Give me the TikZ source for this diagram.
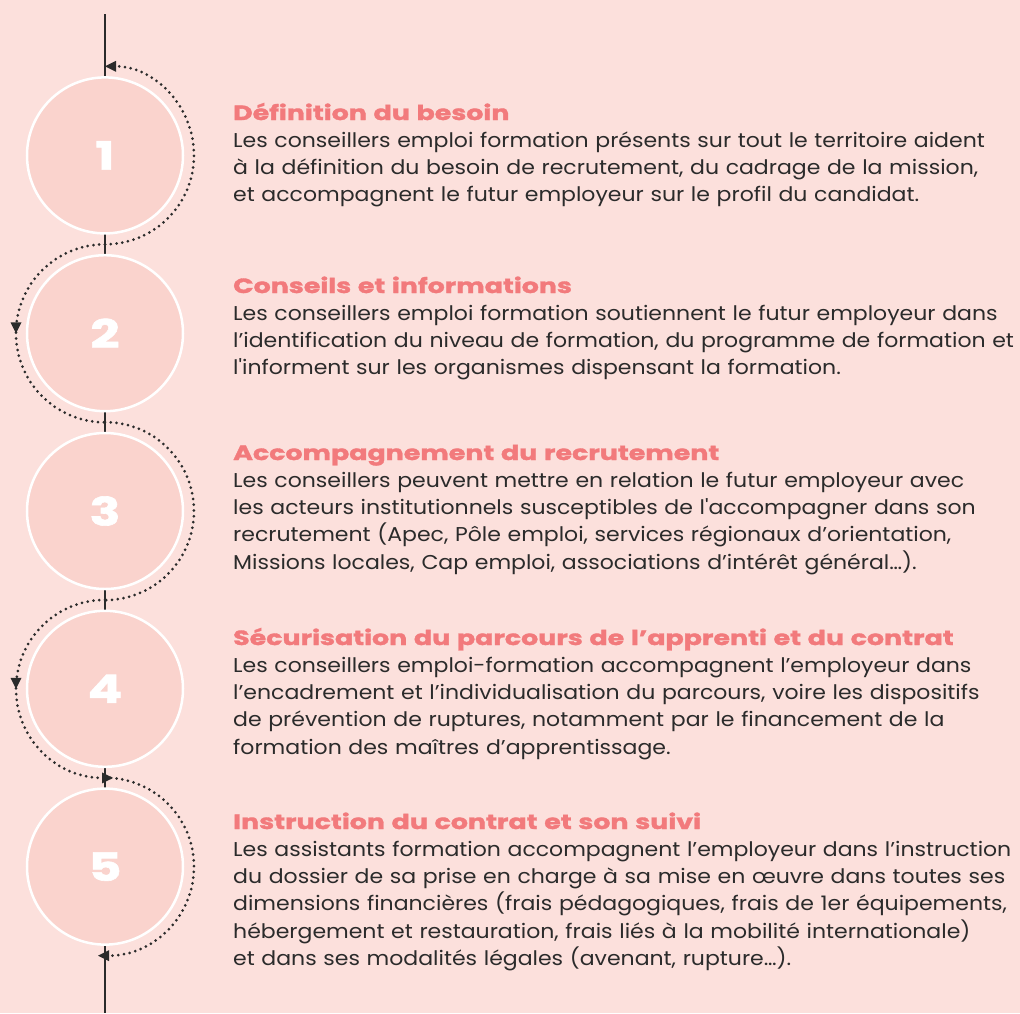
\documentclass[tikz,border=0pt]{standalone}
\usepackage{fontspec}
\usepackage{graphicx}
\setmainfont{Poppins}[FakeStretch=1.1, Ligatures=TeXOff]
\newfontfamily\headfont{Poppins}[FakeStretch=1.31, BoldFeatures={FakeBold=1.6}]
\usetikzlibrary{arrows.meta,decorations.markings}
\definecolor{bgpink}{HTML}{FCE0DC}
\definecolor{discpink}{HTML}{FAD3CD}
\definecolor{coral}{HTML}{F27A7C}
\definecolor{ink}{HTML}{2B2B2B}
\tikzset{
    flowtip/.tip={Triangle[length=11pt,width=11pt,line width=0pt]},
    stepdisc/.style={circle, minimum size=156pt, inner sep=0pt, fill=discpink, draw=white, line width=2.5pt,
        text=white, font=\headfont\fontsize{39}{39}\selectfont\bfseries},
    flow/.style={draw=ink, line width=3pt, dash pattern=on 0pt off 5.8pt, line cap=round},
    midtip/.style={postaction={decorate}, decoration={markings, mark=at position 0.5 with {\arrow{flowtip}}}},
    blurb/.style={anchor=base west, inner sep=0pt, text width=850pt, align=left, text=ink,
        font=\fontsize{20}{27.3}\selectfont},
}
\newcommand\heading[1]{{\headfont\fontsize{20.5}{27.3}\selectfont\bfseries\color{coral}#1}}
\begin{document}
\begin{tikzpicture}[x=1pt,y=-1pt]
    \fill[bgpink] (0,0) rectangle (1020,1013);
    \useasboundingbox (0,0) rectangle (1020,1013);

    \coordinate (top) at (105,14);
    \coordinate (bottom) at (105,1013);
    \draw[ink, line width=1.4pt] (top) -- (bottom);

    \foreach \n in {0,...,5}
        \coordinate (j\n) at (105,{66.5+177.8*\n});

    \draw[flow, -{flowtip}] (j1) arc[start angle=90, end angle=-90, radius=89];
    \draw[flow, midtip] (j1) arc[start angle=-90, end angle=-270, radius=89];
    \draw[flow] (j2) arc[start angle=-90, end angle=90, radius=89];
    \draw[flow, midtip, -{flowtip}, shorten >=-8pt] (j3) arc[start angle=-90, end angle=-270, radius=89];
    \draw[flow, -{flowtip}, shorten >=-7pt] (j4) arc[start angle=-90, end angle=90, radius=89];

    \foreach \n in {1,...,5}
        \node[stepdisc] (c\n) at (105,{155.4+177.8*(\n-1)}) {\n};

    \node[blurb] (t1) at (233,120) {\heading{Définition du besoin}\\
        Les conseillers emploi formation présents sur tout le territoire aident\\
        à la définition du besoin de recrutement, du cadrage de la mission,\\
        et accompagnent le futur employeur sur le profil du candidat.};
    \node[blurb] (t2) at (233,293) {\heading{Conseils et informations}\\
        Les conseillers emploi formation soutiennent le futur employeur dans\\
        l’identification du niveau de formation, du programme de formation et\\
        l'informent sur les organismes dispensant la formation.};
    \node[blurb] (t3) at (233,460) {\heading{Accompagnement du recrutement}\\
        Les conseillers peuvent mettre en relation le futur employeur avec\\
        les acteurs institutionnels susceptibles de l'accompagner dans son\\
        recrutement (Apec, Pôle emploi, services régionaux d’orientation,\\
        Missions locales, Cap emploi, associations d’intérêt général…).};
    \node[blurb] (t4) at (233,645) {\heading{Sécurisation du parcours de l’apprenti et du contrat}\\
        Les conseillers emploi-formation accompagnent l’employeur dans\\
        l’encadrement et l’individualisation du parcours, voire les dispositifs\\
        de prévention de ruptures, notamment par le financement de la\\
        formation des maîtres d’apprentissage.};
    \node[blurb] (t5) at (233,829) {\heading{Instruction du contrat et son suivi}\\
        Les assistants formation accompagnent l’employeur dans l’instruction\\
        du dossier de sa prise en charge à sa mise en œuvre dans toutes ses\\
        dimensions financières (frais pédagogiques, frais de 1er équipements,\\
        hébergement et restauration, frais liés à la mobilité internationale)\\
        et dans ses modalités légales (avenant, rupture…).};
\end{tikzpicture}
\end{document}
